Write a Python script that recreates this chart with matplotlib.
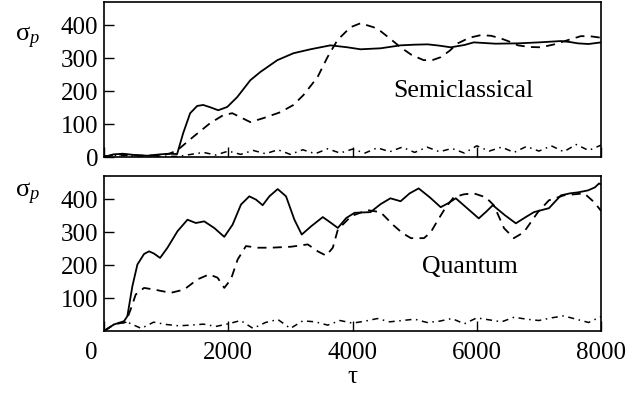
import numpy as np
import matplotlib.pyplot as plt
import matplotlib.transforms as mtransforms

plt.rcParams['font.family'] = ['Liberation Serif', 'DejaVu Serif']
plt.rcParams['mathtext.fontset'] = 'custom'
plt.rcParams['mathtext.rm'] = 'Liberation Serif'
plt.rcParams['mathtext.it'] = 'Liberation Serif:italic'

# semiclassical panel
sc_tau_solid = [0, 150, 300, 500, 700, 900, 1050, 1177, 1274, 1387, 1500, 1597, 1710, 1839,
                1984, 2145, 2355, 2516, 2790, 3049, 3323, 3645, 3919, 4129, 4452, 4774, 5000,
                5210, 5400, 5581, 5800, 5952, 6300, 6662, 7000, 7355, 7500, 7630, 7800, 8000]
sc_solid = [0, 8, 10, 6, 4, 8, 10, 9, 72, 133, 155, 158, 151, 142, 152, 182, 233, 258, 294,
            315, 327, 339, 333, 327, 330, 339, 341, 342, 338, 333, 340, 348, 344, 345, 348,
            352, 349, 345, 343, 348]
sc_tau_dash = [0, 150, 300, 500, 700, 903, 1050, 1177, 1435, 1710, 1919, 2065, 2194, 2355,
               2565, 2839, 3049, 3210, 3436, 3597, 3758, 3968, 4129, 4339, 4452, 4600, 4774,
               4950, 5145, 5300, 5419, 5560, 5694, 5880, 6065, 6230, 6387, 6530, 6662, 6850,
               7032, 7250, 7468, 7678, 7850, 8000]
sc_dash = [0, 6, 8, 5, 4, 5, 10, 20, 61, 103, 127, 133, 121, 106, 118, 136, 158, 188, 242,
           303, 355, 394, 406, 394, 382, 360, 333, 310, 294, 295, 303, 322, 345, 362, 370,
           368, 360, 350, 339, 334, 333, 342, 355, 367, 366, 362]
sc_tau_dd = list(range(0, 8001, 200))
sc_dd = [3, 5, 4, 3, 3, 2, 2, 8, 14, 6, 18, 8, 20, 10, 22, 8, 22, 10, 25, 12, 24, 12, 28, 16,
         30, 14, 30, 16, 26, 12, 34, 18, 30, 14, 32, 18, 34, 16, 38, 20, 36]

# quantum panel
q_tau_solid = [0, 161, 323, 376, 457, 538, 645, 726, 807, 903, 1022, 1183, 1344, 1479, 1613,
               1774, 1936, 2070, 2205, 2339, 2447, 2554, 2662, 2796, 2930, 3065, 3183, 3334,
               3522, 3656, 3764, 3898, 4033, 4290, 4450, 4610, 4774, 4920, 5065, 5250, 5419,
               5540, 5662, 5850, 6032, 6150, 6258, 6450, 6629, 6780, 6920, 7162, 7355, 7500,
               7630, 7791, 7900, 7968, 8000]
q_solid = [0, 20, 30, 45, 136, 202, 234, 242, 235, 222, 253, 303, 338, 328, 333, 313, 286,
           323, 384, 409, 399, 382, 409, 431, 409, 338, 293, 318, 346, 328, 313, 343, 359,
           361, 385, 403, 394, 418, 433, 405, 376, 388, 403, 372, 342, 362, 382, 352, 327,
           345, 361, 373, 412, 418, 421, 427, 436, 448, 445]
q_tau_dash = [0, 161, 290, 350, 430, 511, 645, 807, 1075, 1290, 1506, 1694, 1828, 1936, 2043,
              2151, 2285, 2473, 2689, 3011, 3280, 3441, 3576, 3683, 3764, 3979, 4240, 4450,
              4660, 4800, 4940, 5150, 5260, 5371, 5500, 5629, 5790, 5952, 6145, 6274, 6440,
              6597, 6758, 6984, 7162, 7403, 7730, 7890, 8000]
q_dash = [0, 20, 25, 27, 66, 111, 131, 126, 116, 126, 157, 172, 162, 131, 157, 217, 258, 253,
          253, 256, 263, 242, 229, 253, 308, 349, 367, 361, 321, 298, 282, 282, 300, 336, 375,
          406, 415, 418, 406, 382, 312, 282, 300, 361, 397, 412, 418, 391, 365]
q_tau_dd = list(range(0, 8001, 200))
q_dd = [0, 25, 25, 8, 27, 20, 16, 18, 21, 14, 22, 32, 8, 26, 35, 8, 31, 28, 18, 32, 24, 30,
        38, 28, 32, 36, 26, 30, 38, 22, 40, 34, 28, 42, 36, 32, 40, 46, 36, 26, 44]

fig = plt.figure(figsize=(6.34, 3.96), dpi=100)
ax1 = fig.add_axes([0.164, 0.6035, 0.784, 0.391])
ax2 = fig.add_axes([0.164, 0.164, 0.784, 0.391])

dash = (0, (5, 3.5))
dashdot = (0, (4, 3, 1, 3))
lw = 1.3

ax1.plot(sc_tau_solid, sc_solid, color='black', lw=lw)
ax1.plot(sc_tau_dash, sc_dash, color='black', lw=lw, linestyle=dash)
ax1.plot(sc_tau_dd, sc_dd, color='black', lw=1.1, linestyle=dashdot)

ax2.plot(q_tau_solid, q_solid, color='black', lw=lw)
ax2.plot(q_tau_dash, q_dash, color='black', lw=lw, linestyle=dash)
ax2.plot(q_tau_dd, q_dd, color='black', lw=1.1, linestyle=dashdot)

for ax in (ax1, ax2):
    ax.set_xlim(0, 8000)
    ax.set_ylim(0, 470)
    ax.set_xticks([0, 2000, 4000, 6000, 8000])
    ax.tick_params(direction='in', length=7, width=1, labelsize=18, pad=4,
                   top=False, right=False)
    ax.tick_params(axis='x', pad=8)
    for s in ax.spines.values():
        s.set_linewidth(1.2)

ax1.set_yticks([0, 100, 200, 300, 400])
ax1.set_xticklabels([])
ax2.set_yticks([100, 200, 300, 400])

# the "0" on the time axis sits a bit left of the origin
lab0 = ax2.get_xticklabels()[0]
lab0.set_transform(lab0.get_transform() + mtransforms.ScaledTranslation(-13 / 100, 0, fig.dpi_scale_trans))

ax2.set_xlabel('τ', fontsize=18, labelpad=1)

fig.text(0.024, 0.905, r'$\mathrm{σ}_{p}$', fontsize=19, ha='left', va='center')
fig.text(0.024, 0.51, r'$\mathrm{σ}_{p}$', fontsize=19, ha='left', va='center')

ax1.text(5780, 200, 'Semiclassical', fontsize=18.5, ha='center', va='center')
ax2.text(5890, 195, 'Quantum', fontsize=18.5, ha='center', va='center')

fig.savefig('out.png', dpi=100)
